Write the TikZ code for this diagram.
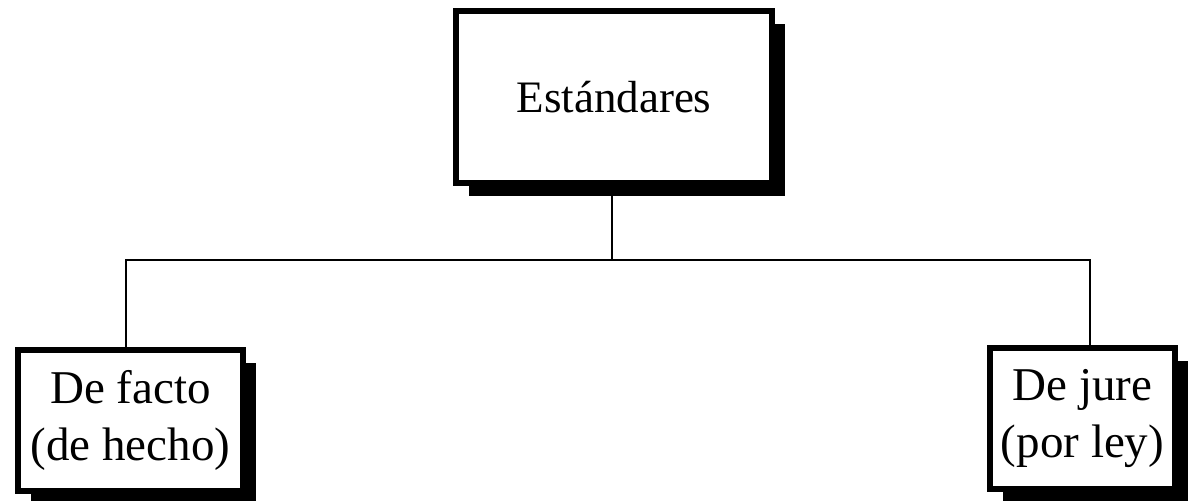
\documentclass[tikz,border=0pt]{standalone}
\usepackage{fontspec}
\setmainfont{Liberation Serif}
\usetikzlibrary{shadows}

\tikzset{
    stdbox/.style={draw, line width=3pt, fill=white, align=center, inner sep=0pt,
        font=\fontsize{23.5}{28.5}\selectfont,
        drop shadow={shadow xshift=6.5pt, shadow yshift=-6.5pt, fill=black, opacity=1}},
    link/.style={line width=1.3pt}
}

\begin{document}
\begin{tikzpicture}[x=1pt,y=1pt]
    \useasboundingbox (0,0) rectangle (594.5,250.5); % page size
    \node[stdbox, font=\fontsize{22.5}{27}\selectfont, minimum width=158pt, minimum height=86pt] (std) at (307,202) {Estándares}; % top box
    \node[stdbox, minimum width=112.5pt, minimum height=70.5pt] (facto) at (65.25,40.25) {De facto\\(de hecho)}; % left box
    \node[stdbox, minimum width=92.5pt, minimum height=70.5pt] (jure) at (541.25,41.25) {De jure\\(por ley)}; % right box
    \coordinate (split) at (306,120.5); % branch point
    \draw[link] (std.south -| split) -- (split); % stem
    \draw[link] (split) -| (63,0 |- facto.north); % to left box
    \draw[link] (split) -| (545,0 |- jure.north); % to right box
\end{tikzpicture}
\end{document}
